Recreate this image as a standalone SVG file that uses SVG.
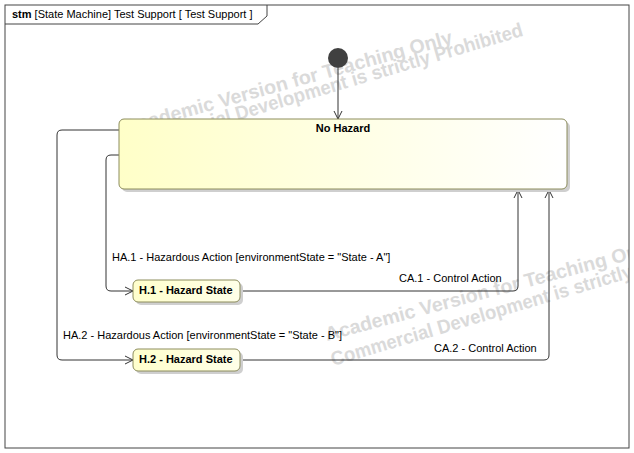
<svg xmlns="http://www.w3.org/2000/svg" width="634" height="453" viewBox="0 0 634 453">
<defs>
<style>
.t{font-family:"Liberation Sans",Arial,sans-serif;font-size:11px;fill:#000}
.b{font-weight:bold}
.wm{font-family:"Liberation Sans",Arial,sans-serif;font-size:19.5px;font-weight:bold;fill:#dadada}
.edge{fill:none;stroke:#333;stroke-width:1}
.state{stroke:#8c8c5c;stroke-width:1}
.shadow{fill:#cfcfcf}
</style>
<linearGradient id="gNH" x1="0" y1="0" x2="1" y2="0">
<stop offset="0" stop-color="#ffffc8"/>
<stop offset="1" stop-color="#ffffff"/>
</linearGradient>
<linearGradient id="gS" x1="0" y1="0" x2="1" y2="0">
<stop offset="0" stop-color="#ffffcc"/>
<stop offset="1" stop-color="#ffffe8"/>
</linearGradient>
<clipPath id="clipFrame">
<rect x="5" y="5" width="624" height="443"/>
</clipPath>
<marker id="arr" viewBox="0 0 10 10" refX="9" refY="5" markerWidth="10" markerHeight="10" markerUnits="userSpaceOnUse" orient="auto">
<path d="M1,1 L9,5 L1,9" fill="none" stroke="#333" stroke-width="1"/>
</marker>
</defs>
<rect x="0" y="0" width="634" height="453" fill="#fff"/>
<g id="watermark" clip-path="url(#clipFrame)">
<text class="wm" transform="translate(126,134) rotate(-15.5)" textLength="340" lengthAdjust="spacingAndGlyphs">Academic Version for Teaching Only</text>
<text class="wm" transform="translate(131,152) rotate(-16.5)" textLength="410" lengthAdjust="spacingAndGlyphs">Commercial Development is strictly Prohibited</text>
<text class="wm" transform="translate(327,341) rotate(-15)" textLength="340" lengthAdjust="spacingAndGlyphs">Academic Version for Teaching Only</text>
<text class="wm" transform="translate(333,366) rotate(-16.5)" textLength="410" lengthAdjust="spacingAndGlyphs">Commercial Development is strictly Prohibited</text>
</g>
<g id="frame">
<rect x="5" y="5" width="624" height="443" fill="none" stroke="#444" stroke-width="1"/>
<path d="M5,24 H258 L267,16 V5" fill="none" stroke="#444" stroke-width="1"/>
<text class="t" x="12" y="18"><tspan class="b">stm</tspan> [State Machine] Test Support [ Test Support ]</text>
</g>
<g id="connectors">
<path class="edge" d="M338,68 V119" marker-end="url(#arr)"/>
<path class="edge" d="M119,155 H111 Q106,155 106,160 V286 Q106,291 111,291 H133" marker-end="url(#arr)"/>
<path class="edge" d="M119,130 H62 Q57,130 57,135 V355 Q57,360 62,360 H133" marker-end="url(#arr)"/>
<path class="edge" d="M240,291 H513 Q518,291 518,286 V190" marker-end="url(#arr)"/>
<path class="edge" d="M240,360 H544 Q549,360 549,355 V190" marker-end="url(#arr)"/>
<text class="t" x="112" y="261">HA.1 - Hazardous Action [environmentState = "State - A"]</text>
<text class="t" x="399" y="282">CA.1 - Control Action</text>
<text class="t" x="63" y="339">HA.2 - Hazardous Action [environmentState = "State - B"]</text>
<text class="t" x="434" y="352">CA.2 - Control Action</text>
</g>
<g id="initial">
<circle cx="338" cy="58" r="10" fill="#404040"/>
</g>
<g id="noHazard">
<rect class="shadow" x="122" y="122" width="448" height="70" rx="5"/>
<rect class="state" x="119" y="119" width="448" height="70" rx="5" fill="url(#gNH)"/>
<text class="t b" x="343" y="132" text-anchor="middle">No Hazard</text>
</g>
<g id="h1">
<rect class="shadow" x="136" y="283" width="107" height="22" rx="5"/>
<rect class="state" x="133" y="280" width="107" height="22" rx="5" fill="url(#gS)"/>
<text class="t b" x="139" y="294">H.1 - Hazard State</text>
</g>
<g id="h2">
<rect class="shadow" x="136" y="352" width="107" height="22" rx="5"/>
<rect class="state" x="133" y="349" width="107" height="22" rx="5" fill="url(#gS)"/>
<text class="t b" x="139" y="363">H.2 - Hazard State</text>
</g>
</svg>
